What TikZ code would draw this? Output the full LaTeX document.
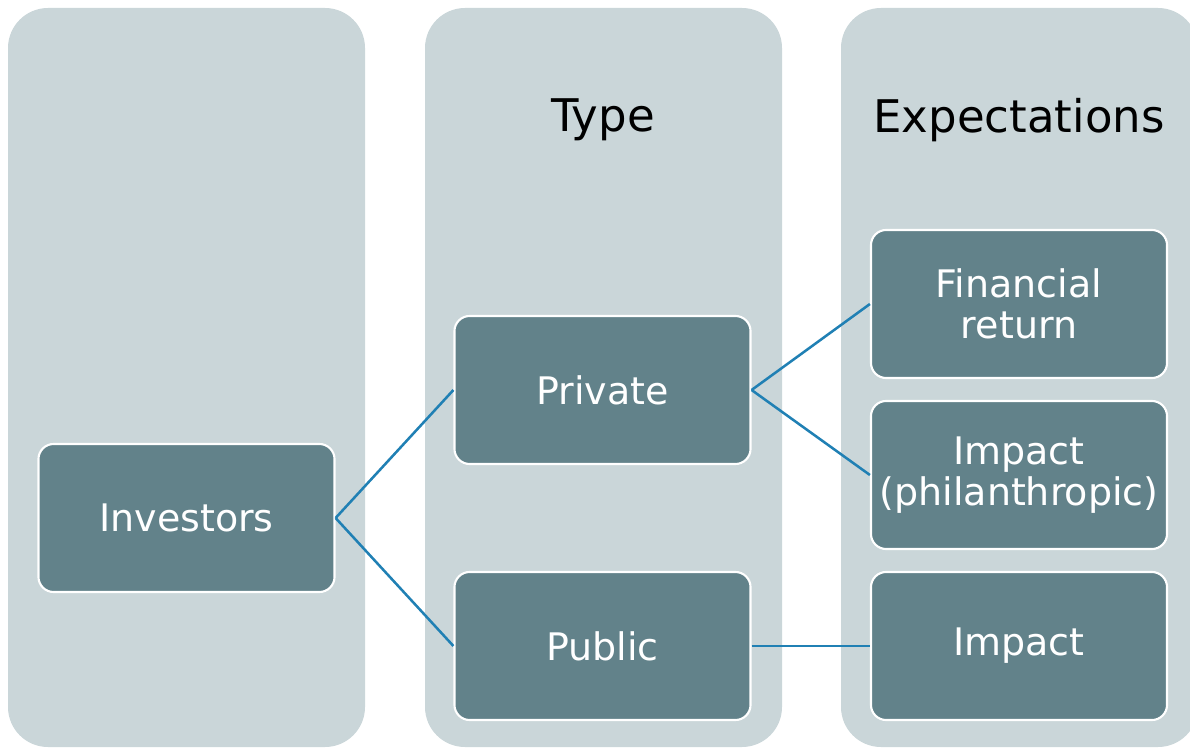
\documentclass[tikz,border=0pt]{standalone}
\usepackage{fontspec}
\setmainfont{DejaVu Sans}
\usetikzlibrary{positioning}
\definecolor{colpanel}{HTML}{CAD6D9}
\definecolor{boxfill}{HTML}{62828A}
\definecolor{linkblue}{HTML}{2080B4}
\tikzset{column/.style={fill=colpanel,rounded corners=1cm},
         item/.style={draw=white,line width=1.5pt,fill=boxfill,rounded corners=0.38cm,
                      minimum width=7.4cm,minimum height=3.7cm,align=center,
                      text=white,font=\fontsize{27}{29}\selectfont},
         heading/.style={font=\fontsize{32}{36}\selectfont,text=black},
         link/.style={draw=linkblue,line width=1.8pt}}

\begin{document}
\begin{tikzpicture}[x=0.025cm,y=-0.025cm]
        \useasboundingbox (0,0) rectangle (1190,749);
        % columns
        \fill[column] (8,8) rectangle (365,747);
        \fill[column] (425,8) rectangle (782,747);
        \fill[column] (841,8) rectangle (1198,747);

        \node[heading](type)at(603,120){Type};
        \node[heading](expect)at(1019,120){Expectations};

        \node[item](inv)at(186.5,518){Investors};
        \node[item](priv)at(602.5,390){Private};
        \node[item](pub)at(602.5,646){Public};
        \node[item](fin)at(1019,304){Financial\\return};
        \node[item](phil)at(1019,475){Impact\\(philanthropic)};
        \node[item](imp)at(1019,646){Impact};

        \draw[link](inv.east)--(priv.west);
        \draw[link](inv.east)--(pub.west);
        \draw[link](priv.east)--(fin.west);
        \draw[link](priv.east)--(phil.west);
        \draw[link](pub.east)--(imp.west);
    \end{tikzpicture}
\end{document}
